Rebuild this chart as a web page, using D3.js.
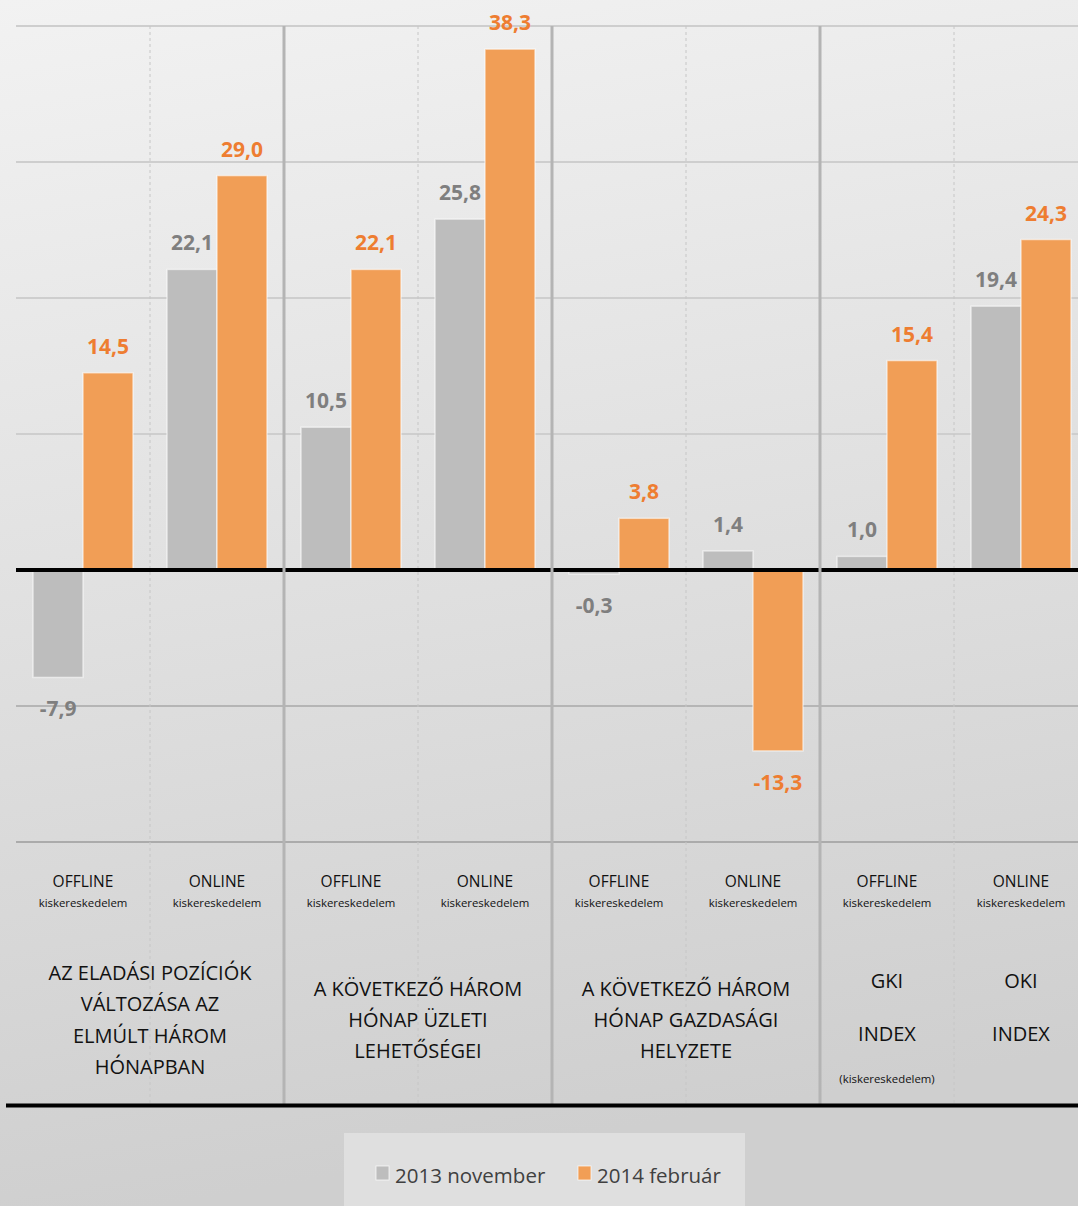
<!DOCTYPE html>
<html>
<head>
<meta charset="utf-8">
<script src="https://cdn.jsdelivr.net/npm/d3@7"></script>
<style>
  html, body { margin: 0; padding: 0; background: #e0e0e0; }
  svg { display: block; }
  text { font-family: "Open Sans", "DejaVu Sans", sans-serif; }
</style>
</head>
<body>
<svg id="chart" width="1078" height="1206"></svg>
<script>
// ---- data ----
const categories = ["OFFLINE", "ONLINE", "OFFLINE", "ONLINE", "OFFLINE", "ONLINE", "OFFLINE", "ONLINE"];
const subLabel = "kiskereskedelem";
const seriesNames = ["2013 november", "2014 február"];
const nov2013 = [-7.9, 22.1, 10.5, 25.8, -0.3, 1.4, 1.0, 19.4];
const feb2014 = [14.5, 29.0, 22.1, 38.3, 3.8, -13.3, 15.4, 24.3];
const groupLabels = [
  ["AZ ELADÁSI POZÍCIÓK", "VÁLTOZÁSA AZ", "ELMÚLT HÁROM", "HÓNAPBAN"],
  ["A KÖVETKEZŐ HÁROM", "HÓNAP ÜZLETI", "LEHETŐSÉGEI"],
  ["A KÖVETKEZŐ HÁROM", "HÓNAP GAZDASÁGI", "HELYZETE"]
];
const indexLabels = [["GKI", "INDEX", "(kiskereskedelem)"], ["OKI", "INDEX", ""]];
const yTicks = [-20, -10, 0, 10, 20, 30, 40];

// ---- layout ----
const W = 1078, H = 1206;
const svg = d3.select("#chart");
const defs = svg.append("defs");
const grad = defs.append("linearGradient").attr("id", "bg")
  .attr("x1", 0).attr("y1", 0).attr("x2", 0.15).attr("y2", 1);
grad.append("stop").attr("offset", "0%").attr("stop-color", "#f2f2f2");
grad.append("stop").attr("offset", "100%").attr("stop-color", "#cfcfcf");
svg.append("rect").attr("width", W).attr("height", H).attr("fill", "url(#bg)");

const slots = categories.map((c, i) => i);
const x0 = d3.scaleBand().domain(slots).range([16, 1088]).paddingInner(0.254).paddingOuter(0.127);
const x1 = d3.scaleBand().domain([0, 1]).range([0, x0.bandwidth()]);
const y = d3.scaleLinear().domain([-20, 40]).range([842, 26]);
const step = x0.step();
const slotStart = i => 16 + i * step;

const colors = ["#bdbdbd", "#f19e56"];
const labelColors = ["#7f7f7f", "#ee7d31"];
const locale = d3.formatLocale({ decimal: ",", thousands: " ", grouping: [3], currency: ["", ""], minus: "-" });
const fmt = locale.format(".1f");

// gridlines
svg.append("g").selectAll("line").data(yTicks.filter(t => t !== 0)).join("line")
  .attr("x1", 16).attr("x2", W).attr("y1", d => y(d)).attr("y2", d => y(d))
  .attr("stroke", d => d <= -20 ? "#ababab" : (d < 0 ? "#b5b5b5" : "#cecece")).attr("stroke-width", 2);

// dashed dividers (between slots within groups)
const dashedX = [1, 3, 5, 7].map(i => slotStart(i));
svg.append("g").selectAll("line").data(dashedX).join("line")
  .attr("x1", d => d).attr("x2", d => d).attr("y1", 26).attr("y2", 1104)
  .attr("stroke", "#c6c6c6").attr("stroke-width", 1).attr("stroke-dasharray", "3,3");

// bars
const data = slots.map(i => ({ i, vals: [nov2013[i], feb2014[i]] }));
const gBars = svg.append("g");
data.forEach(d => {
  d.vals.forEach((v, s) => {
    const xx = x0(d.i) + x1(s);
    gBars.append("rect")
      .attr("x", xx).attr("width", x1.bandwidth())
      .attr("y", y(Math.max(0, v))).attr("height", Math.abs(y(v) - y(0)))
      .attr("fill", colors[s]).attr("stroke", "rgba(255,255,255,0.55)").attr("stroke-width", 1.5);
    gBars.append("text")
      .attr("x", xx + x1.bandwidth() / 2)
      .attr("y", v >= 0 ? y(v) - 19 : y(v) + 39)
      .attr("text-anchor", "middle").attr("font-size", 21).attr("font-weight", 700)
      .attr("fill", labelColors[s]).text(fmt(v));
  });
});

// zero line
svg.append("line").attr("x1", 16).attr("x2", W).attr("y1", y(0)).attr("y2", y(0))
  .attr("stroke", "#000").attr("stroke-width", 4);

// solid group dividers
const solidX = [2, 4, 6].map(i => slotStart(i));
svg.append("g").selectAll("line").data(solidX).join("line")
  .attr("x1", d => d).attr("x2", d => d).attr("y1", 26).attr("y2", 1104)
  .attr("stroke", "#b4b4b4").attr("stroke-width", 3);

// category labels
const gCat = svg.append("g").attr("fill", "#111");
slots.forEach(i => {
  const cx = x0(i) + x0.bandwidth() / 2;
  gCat.append("text").attr("x", cx).attr("y", 887).attr("text-anchor", "middle")
    .attr("font-size", 15.5).text(categories[i]);
  gCat.append("text").attr("x", cx).attr("y", 907).attr("text-anchor", "middle")
    .attr("font-size", 11.4).text(subLabel);
});

// group labels
groupLabels.forEach((lines, g) => {
  const cx = slotStart(g * 2 + 1);
  const n = lines.length;
  lines.forEach((t, k) => {
    gCat.append("text").attr("x", cx).attr("y", 1027 + (k - (n - 1) / 2) * 31.3)
      .attr("text-anchor", "middle").attr("font-size", 20).text(t);
  });
});
indexLabels.forEach((lines, g) => {
  const i = 6 + g;
  const cx = x0(i) + x0.bandwidth() / 2;
  gCat.append("text").attr("x", cx).attr("y", 988).attr("text-anchor", "middle").attr("font-size", 20).text(lines[0]);
  gCat.append("text").attr("x", cx).attr("y", 1041).attr("text-anchor", "middle").attr("font-size", 20).text(lines[1]);
  if (lines[2]) gCat.append("text").attr("x", cx).attr("y", 1083).attr("text-anchor", "middle").attr("font-size", 11.4).text(lines[2]);
});

// bottom line
svg.append("line").attr("x1", 6).attr("x2", W).attr("y1", 1105.5).attr("y2", 1105.5)
  .attr("stroke", "#000").attr("stroke-width", 4);

// legend
const lg = svg.append("g");
lg.append("rect").attr("x", 344).attr("y", 1133).attr("width", 401).attr("height", 80).attr("fill", "#dfdfdf");
const legX = [376, 578];
seriesNames.forEach((name, s) => {
  lg.append("rect").attr("x", legX[s]).attr("y", 1166).attr("width", 13).attr("height", 14)
    .attr("fill", colors[s]).attr("stroke", "rgba(255,255,255,0.7)").attr("stroke-width", 1);
  lg.append("text").attr("x", legX[s] + 19).attr("y", 1183).attr("font-size", 20.5)
    .attr("fill", "#404040").text(name);
});
</script>
</body>
</html>
